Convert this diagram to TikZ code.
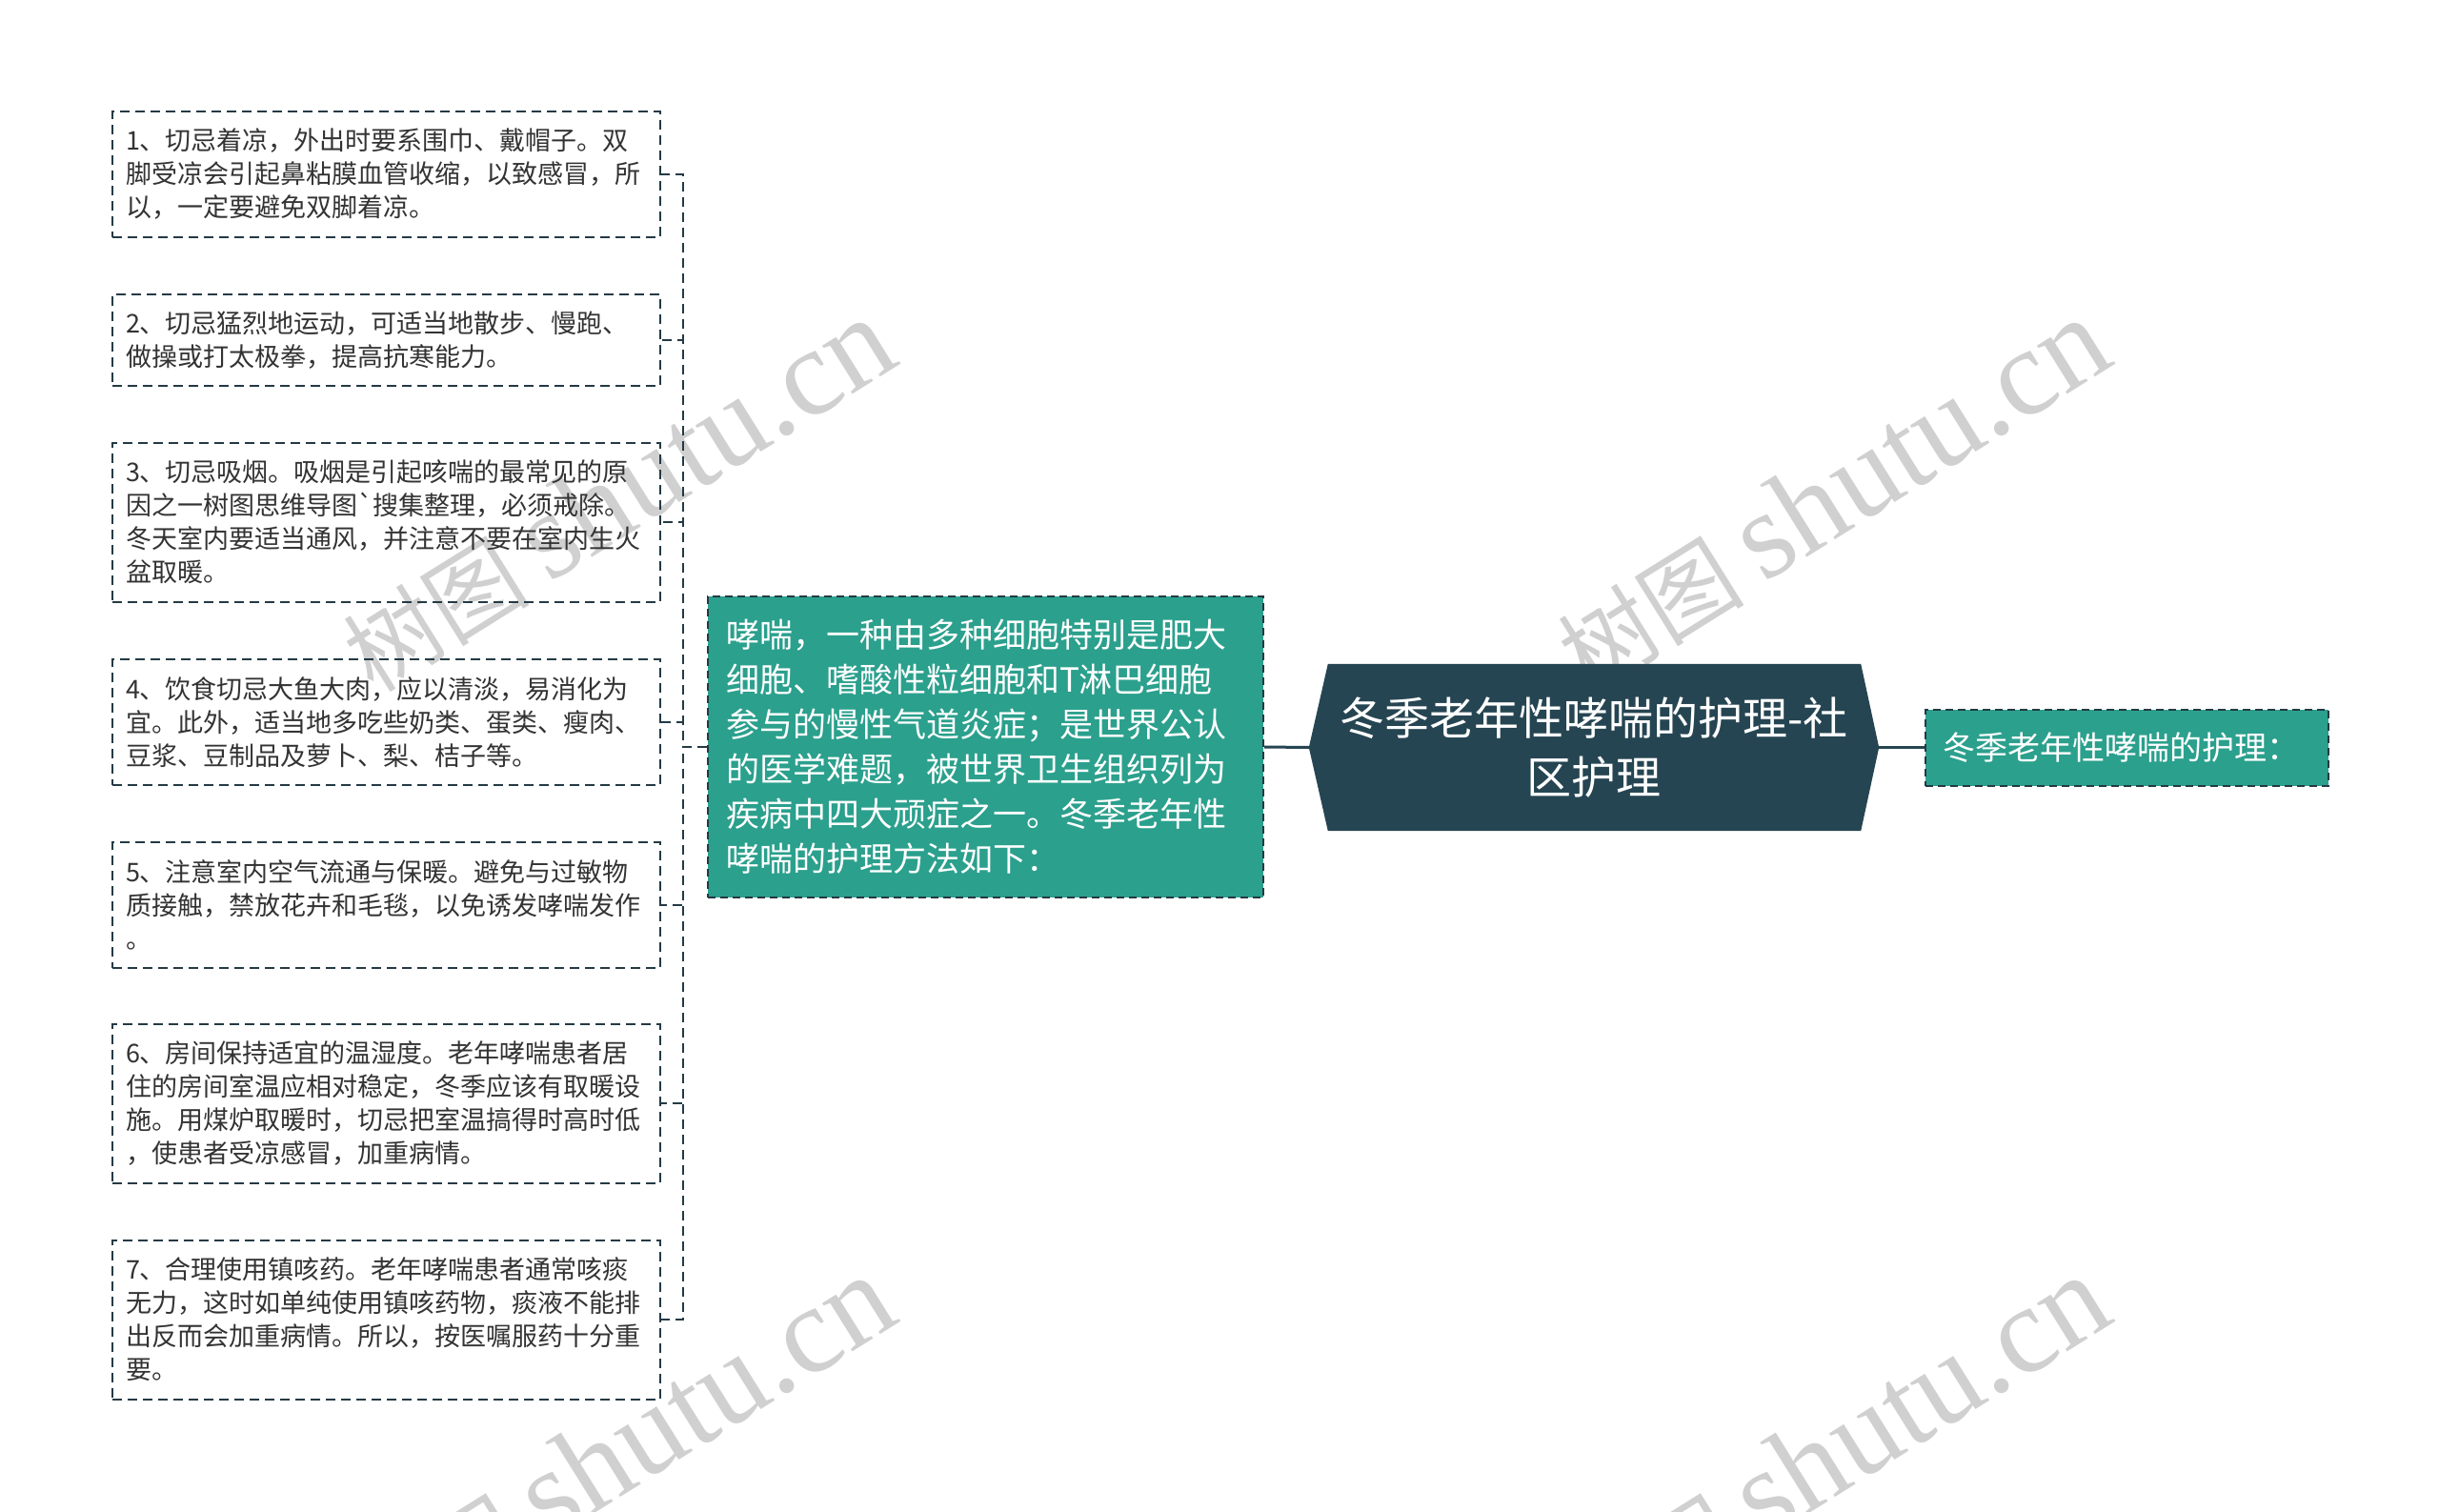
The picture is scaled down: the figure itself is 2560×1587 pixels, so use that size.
\documentclass[tikz,border=0pt]{standalone}
\usepackage{fontspec}
\setmainfont{Noto Sans CJK SC}
\newfontfamily\markfont{Liberation Serif}
\usetikzlibrary{backgrounds}
\definecolor{rootbg}{RGB}{38,69,82}
\definecolor{branchbg}{RGB}{43,160,141}
\definecolor{edgecol}{RGB}{36,58,68}
\definecolor{leaftext}{RGB}{51,51,51}
\definecolor{markgray}{RGB}{208,208,208}
\tikzset{
      leaf/.style={draw=edgecol, line width=2, dash pattern=on 10pt off 6pt, anchor=west,
            text width=547, inner xsep=14, inner ysep=0, align=left, text=leaftext,
            font=\fontsize{27}{35}\selectfont},
      branch/.style={draw=edgecol, fill=branchbg, line width=2, dash pattern=on 8pt off 5pt,
            anchor=west, inner ysep=0, align=left, text=white},
      root/.style={minimum width=598, minimum height=175, inner sep=0, align=center,
            text=white, font=\fontsize{47}{62}\selectfont},
      leaflink/.style={draw=edgecol, line width=2, dash pattern=on 10pt off 6pt},
      mainlink/.style={draw=rootbg, line width=3},
      watermark/.style={rotate=32, text=markgray, inner sep=0, font=\fontsize{98}{98}\selectfont},
}
\begin{document}
\begin{tikzpicture}[x=1pt, y=-1pt]
        \useasboundingbox (0,0) rectangle (2560,1587);

        % Draw the centre and its two branches
        \node[root] (root) at (1673,784.5) {冬季老年性哮喘的护理-社\\区护理};
        \node[branch, text width=545, inner xsep=19, minimum height=316,
              font=\fontsize{35}{47}\selectfont] (mid) at (742,784) {哮喘，一种由多种细胞特别是肥大\\细胞、嗜酸性粒细胞和T淋巴细胞\\参与的慢性气道炎症；是世界公认\\的医学难题，被世界卫生组织列为\\疾病中四大顽症之一。冬季老年性\\哮喘的护理方法如下：};
        \node[branch, text width=387, inner xsep=18, minimum height=80,
              font=\fontsize{34}{44}\selectfont] (tip) at (2020,784.5) {冬季老年性哮喘的护理：};

        % Draw the leaves
        \node[leaf, minimum height=132] (leaf1) at (117,183) {1、切忌着凉，外出时要系围巾、戴帽子。双\\脚受凉会引起鼻粘膜血管收缩，以致感冒，所\\以，一定要避免双脚着凉。};
        \node[leaf, minimum height=96] (leaf2) at (117,357) {2、切忌猛烈地运动，可适当地散步、慢跑、\\做操或打太极拳，提高抗寒能力。};
        \node[leaf, minimum height=167] (leaf3) at (117,548) {3、切忌吸烟。吸烟是引起咳喘的最常见的原\\因之一树图思维导图\textasciigrave 搜集整理，必须戒除。\\冬天室内要适当通风，并注意不要在室内生火\\盆取暖。};
        \node[leaf, minimum height=132] (leaf4) at (117,758) {4、饮食切忌大鱼大肉，应以清淡，易消化为\\宜。此外，适当地多吃些奶类、蛋类、瘦肉、\\豆浆、豆制品及萝卜、梨、桔子等。};
        \node[leaf, minimum height=132] (leaf5) at (117,950) {5、注意室内空气流通与保暖。避免与过敏物\\质接触，禁放花卉和毛毯，以免诱发哮喘发作\\。};
        \node[leaf, minimum height=167] (leaf6) at (117,1158) {6、房间保持适宜的温湿度。老年哮喘患者居\\住的房间室温应相对稳定，冬季应该有取暖设\\施。用煤炉取暖时，切忌把室温搞得时高时低\\，使患者受凉感冒，加重病情。};
        \node[leaf, minimum height=167] (leaf7) at (117,1385) {7、合理使用镇咳药。老年哮喘患者通常咳痰\\无力，这时如单纯使用镇咳药物，痰液不能排\\出反而会加重病情。所以，按医嘱服药十分重\\要。};

        % Draw the links
        \coordinate (fork) at (717,784);
        \foreach \i in {1,...,7}
              \draw[leaflink] (mid.west) -- (fork) |- (leaf\i.east);
        \draw[mainlink] (mid.east) -- (root.west);
        \draw[mainlink] (root.east) -- (tip.west);

        % Background: hexagon and watermarks
        \begin{scope}[on background layer]
              \fill[white] (0,0) rectangle (2560,1587);
              \foreach \wx/\wy/\k in {648/520/1, 1923/520/2, 648/1525/3, 1923/1525/4}
                    \node[watermark] (mark\k) at (\wx,\wy) {树图 {\markfont\fontsize{130}{130}\selectfont shutu.cn}};
              \fill[rootbg] (root.west) -- ([xshift=20]root.north west) -- ([xshift=-19]root.north east)
                    -- (root.east) -- ([xshift=-19]root.south east) -- ([xshift=20]root.south west) -- cycle;
        \end{scope}

\end{tikzpicture}
\end{document}
